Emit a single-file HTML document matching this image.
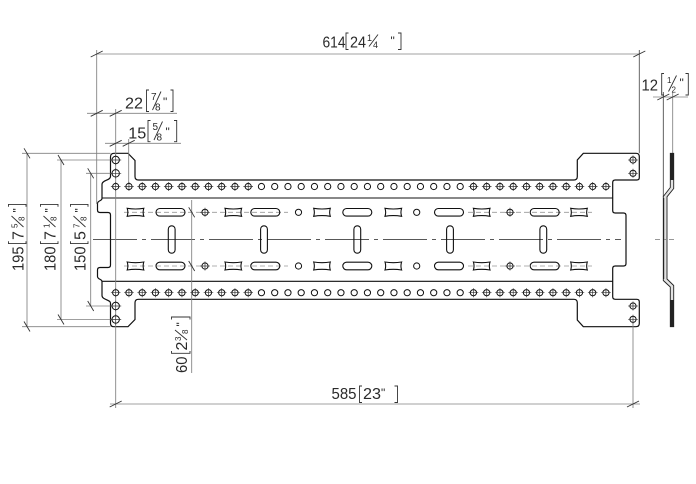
<!DOCTYPE html>
<html><head><meta charset="utf-8"><style>
html,body{margin:0;padding:0;background:#fff;}
svg{display:block;}
text{font-family:"Liberation Sans",Arial,sans-serif;fill:#2a2a2a;}
</style></head><body>
<svg width="696" height="484" viewBox="0 0 696 484" xmlns="http://www.w3.org/2000/svg">
<defs>
<g id="hx"><circle r="3.1" fill="#fff" stroke="#111" stroke-width="1"/><path d="M-4.8,0H4.8M0,-4.5V4.5" stroke="#333" stroke-width="0.7"/></g>
<g id="ho"><circle r="3.1" fill="#fff" stroke="#111" stroke-width="1"/></g>
<g id="th"><circle r="3.7" fill="#fff" stroke="#111" stroke-width="1"/><path d="M-5.5,0H5.5M0,-5.2V5.2" stroke="#333" stroke-width="0.7"/></g>
<path id="bt" d="M-8.3,-4 Q0,-2.6 8.3,-4 Q7,0 8.3,4 Q0,2.6 -8.3,4 Q-7,0 -8.3,-4Z" fill="none" stroke="#111" stroke-width="1.1"/>
<rect id="hs" x="-14.5" y="-3.8" width="29" height="7.6" rx="3.8" fill="none" stroke="#111" stroke-width="1.1"/>
<rect id="vs" x="-3.4" y="-13.7" width="6.8" height="27.4" rx="3.4" fill="none" stroke="#111" stroke-width="1.1"/>
</defs>

<!-- plate outline -->
<path d="M110.5,157 Q110.5,153.3 114,153.3 L128,153.3 L135,160.5 L135,176.5 Q135,180 138.5,180 L573.8,180 Q577.3,180 577.3,176.5 L577.3,160 L583.3,153.3 L636,153.3 Q639.3,153.3 639.3,156.6 L639.3,177.5 Q639.3,180 636.8,180 L615.2,180 Q612.7,180 612.7,182.5 L612.7,210.5 Q612.7,213 615.2,213 L623.5,213 Q626,213 626,215.5 L626,263.5 Q626,266 623.5,266 L615.2,266 Q612.7,266 612.7,268.5 L612.7,296.8 Q612.7,299.3 615.2,299.3 L636.8,299.3 Q639.3,299.3 639.3,301.8 L639.3,323.4 Q639.3,326.7 636,326.7 L583.3,326.7 L577.3,320 L577.3,302.8 Q577.3,299.3 573.8,299.3 L138.5,299.3 Q135,299.3 135,302.8 L135,319.5 L128,326.7 L114,326.7 Q110.5,326.7 110.5,323.2 L110.5,303 C110.5,299.5 102,300 102,295.5 L102,281.5 C102,279 97.5,279.5 97.5,276.5 L97.5,270 Q97.5,267.5 100,267.5 L108,267.5 Q110.5,267.5 110.5,265 L110.5,215 Q110.5,212.5 108,212.5 L100,212.5 Q97.5,212.5 97.5,210 L97.5,203.5 C97.5,200.5 102,201 102,198.5 L102,184.5 C102,180 110.5,180.5 110.5,176.5 Z" fill="#fff" stroke="#111" stroke-width="1.2"/>
<!-- bend lines -->
<path d="M102,198H612.7M102,281.3H612.7" stroke="#111" stroke-width="1.1"/>

<!-- center line -->
<path d="M93,239.5H621" stroke="#222" stroke-width="0.8" stroke-dasharray="44 5 4 5"/>
<!-- row dashed center lines -->
<g stroke="#999" stroke-width="0.8" stroke-dasharray="5 3">
<path d="M124,212.3H288M468,212.3H592M124,266H288M468,266H592"/>
</g>

<!-- dimension / extension lines (gray) -->
<g stroke="#808080" stroke-width="0.85" fill="none">
<path d="M96.7,54H639.3"/>
<path d="M96.7,50V204"/>
<path d="M87,113.3H177"/>
<path d="M105,143.3H181"/>
<path d="M115.7,109V408"/>
<path d="M128.7,139V186.5"/>
<path d="M27,153.3V326.5"/>
<path d="M22,153.3H110.5M22,326.7H110.5"/>
<path d="M61,160V319.5"/>
<path d="M57,160H112M57,319.5H112"/>
<path d="M90.7,173.3V306"/>
<path d="M86,173.3H112M86,306H112"/>
<path d="M110,404H640"/>
<path d="M633,322V408"/>
<path d="M191.7,200V373"/>
<path d="M653,97H688"/>
<path d="M672.7,92V153.3"/>
</g>
<path d="M639.3,50V153.3" stroke="#555" stroke-width="0.9"/>
<path d="M663.3,92V197" stroke="#444" stroke-width="0.85"/>

<!-- ticks -->
<g stroke="#333" stroke-width="0.9">
<path d="M90.7,57L102.7,51M633.3,57L645.3,51"/>
<path d="M90.7,116.3L102.7,110.3M109.7,116.3L121.7,110.3"/>
<path d="M109.7,146.3L121.7,140.3M122.7,146.3L134.7,140.3"/>
<path d="M109.7,407L121.7,401M627,407L639,401"/>
<path d="M657.3,100L669.3,94M666.7,100L678.7,94"/>
<path d="M24,148.3L30,158.3M24,321.5L30,331.5"/>
<path d="M58,155L64,165M58,314.5L64,324.5"/>
<path d="M87.7,168.3L93.7,178.3M87.7,301L93.7,311"/>
<path d="M188.7,207.3L194.7,217.3M188.7,261L194.7,271"/>
</g>

<!-- flange holes top -->
<g>
<use href="#hx" x="115.7" y="186.5"/><use href="#hx" x="128.95" y="186.5"/><use href="#hx" x="142.2" y="186.5"/><use href="#hx" x="155.45" y="186.5"/><use href="#hx" x="168.7" y="186.5"/><use href="#hx" x="181.95" y="186.5"/><use href="#hx" x="195.2" y="186.5"/><use href="#hx" x="208.45" y="186.5"/><use href="#hx" x="221.7" y="186.5"/><use href="#hx" x="234.95" y="186.5"/><use href="#hx" x="248.2" y="186.5"/>
<use href="#ho" x="261.45" y="186.5"/><use href="#ho" x="274.7" y="186.5"/><use href="#ho" x="287.95" y="186.5"/><use href="#ho" x="301.2" y="186.5"/><use href="#ho" x="314.45" y="186.5"/><use href="#ho" x="327.7" y="186.5"/><use href="#ho" x="340.95" y="186.5"/><use href="#ho" x="354.2" y="186.5"/><use href="#ho" x="367.45" y="186.5"/><use href="#ho" x="380.7" y="186.5"/><use href="#ho" x="393.95" y="186.5"/><use href="#ho" x="407.2" y="186.5"/><use href="#ho" x="420.45" y="186.5"/><use href="#ho" x="433.7" y="186.5"/><use href="#ho" x="446.95" y="186.5"/><use href="#ho" x="460.2" y="186.5"/>
<use href="#hx" x="473.45" y="186.5"/><use href="#hx" x="486.7" y="186.5"/><use href="#hx" x="499.95" y="186.5"/><use href="#hx" x="513.2" y="186.5"/><use href="#hx" x="526.45" y="186.5"/><use href="#hx" x="539.7" y="186.5"/><use href="#hx" x="552.95" y="186.5"/><use href="#hx" x="566.2" y="186.5"/><use href="#hx" x="579.45" y="186.5"/><use href="#hx" x="592.7" y="186.5"/><use href="#hx" x="605.95" y="186.5"/>
</g>
<!-- flange holes bottom -->
<g>
<use href="#hx" x="115.7" y="292.7"/><use href="#hx" x="128.95" y="292.7"/><use href="#hx" x="142.2" y="292.7"/><use href="#hx" x="155.45" y="292.7"/><use href="#hx" x="168.7" y="292.7"/><use href="#hx" x="181.95" y="292.7"/><use href="#hx" x="195.2" y="292.7"/><use href="#hx" x="208.45" y="292.7"/><use href="#hx" x="221.7" y="292.7"/><use href="#hx" x="234.95" y="292.7"/><use href="#hx" x="248.2" y="292.7"/>
<use href="#ho" x="261.45" y="292.7"/><use href="#ho" x="274.7" y="292.7"/><use href="#ho" x="287.95" y="292.7"/><use href="#ho" x="301.2" y="292.7"/><use href="#ho" x="314.45" y="292.7"/><use href="#ho" x="327.7" y="292.7"/><use href="#ho" x="340.95" y="292.7"/><use href="#ho" x="354.2" y="292.7"/><use href="#ho" x="367.45" y="292.7"/><use href="#ho" x="380.7" y="292.7"/><use href="#ho" x="393.95" y="292.7"/><use href="#ho" x="407.2" y="292.7"/><use href="#ho" x="420.45" y="292.7"/><use href="#ho" x="433.7" y="292.7"/><use href="#ho" x="446.95" y="292.7"/><use href="#ho" x="460.2" y="292.7"/>
<use href="#hx" x="473.45" y="292.7"/><use href="#hx" x="486.7" y="292.7"/><use href="#hx" x="499.95" y="292.7"/><use href="#hx" x="513.2" y="292.7"/><use href="#hx" x="526.45" y="292.7"/><use href="#hx" x="539.7" y="292.7"/><use href="#hx" x="552.95" y="292.7"/><use href="#hx" x="566.2" y="292.7"/><use href="#hx" x="579.45" y="292.7"/><use href="#hx" x="592.7" y="292.7"/><use href="#hx" x="605.95" y="292.7"/>
</g>

<!-- tab holes -->
<use href="#th" x="115.7" y="160"/><use href="#th" x="115.7" y="173.3"/>
<use href="#th" x="115.7" y="306"/><use href="#th" x="115.7" y="319.5"/>
<use href="#hx" x="633" y="160"/><use href="#hx" x="633" y="173.3"/>
<use href="#hx" x="633" y="306"/><use href="#hx" x="633" y="319.3"/>

<!-- body features -->
<g>
<use href="#bt" x="135.5" y="212.3"/><use href="#bt" x="233.3" y="212.3"/><use href="#bt" x="322" y="212.3"/><use href="#bt" x="393.3" y="212.3"/><use href="#bt" x="481.7" y="212.3"/><use href="#bt" x="579" y="212.3"/>
<use href="#bt" x="135.5" y="266"/><use href="#bt" x="233.3" y="266"/><use href="#bt" x="322" y="266"/><use href="#bt" x="393.3" y="266"/><use href="#bt" x="481.7" y="266"/><use href="#bt" x="579" y="266"/>
<use href="#hs" x="170.5" y="212.3"/><use href="#hs" x="265.3" y="212.3"/><use href="#hs" x="357.3" y="212.3"/><use href="#hs" x="449" y="212.3"/><use href="#hs" x="544.7" y="212.3"/>
<use href="#hs" x="170.5" y="266"/><use href="#hs" x="265.3" y="266"/><use href="#hs" x="357.3" y="266"/><use href="#hs" x="449" y="266"/><use href="#hs" x="544.7" y="266"/>
<use href="#vs" x="171.7" y="239.5"/><use href="#vs" x="264" y="239.5"/><use href="#vs" x="357.3" y="239.5"/><use href="#vs" x="450" y="239.5"/><use href="#vs" x="543.3" y="239.5"/>
<use href="#hx" x="205" y="212.3"/><use href="#hx" x="205" y="266"/>
<use href="#ho" x="298.5" y="212.3"/><use href="#ho" x="298.5" y="266"/>
<use href="#ho" x="416.7" y="212.3"/><use href="#ho" x="416.7" y="266"/>
<use href="#hx" x="510" y="212.3"/><use href="#hx" x="510" y="266"/>
</g>

<!-- side view -->
<path d="M670.3,153.3H673.7V188.5L667,196.8V279L673.7,285.5V326.7H670.3V287L663.3,280.5V196.5L670.3,187.5Z" fill="#e2e2e2" stroke="#222" stroke-width="0.9"/>
<rect x="670.3" y="153.3" width="3.4" height="26.7" fill="#222"/>
<rect x="670.3" y="300" width="3.4" height="26.7" fill="#222"/>
<path d="M663.6,198V279" stroke="#222" stroke-width="1.2"/>
<path d="M655,239.4H660M664,239.4H666M669,239.4H674" stroke="#777" stroke-width="0.8"/>

<!-- bracket strokes -->
<g stroke="#333" stroke-width="0.9" fill="none">
<path d="M348.5,33H346V49.5H348.5"/><path d="M398,33H401V49.5H398"/><path d="M369,46.5L378,34.5"/>
<path d="M149,90H146.5V111.5H149"/><path d="M170.5,90H173V111.5H170.5"/><path d="M152.5,110L161,91.5"/>
<path d="M150.5,120.5H148V141.7H150.5"/><path d="M174,120.5H176.7V141.7H174"/><path d="M154,140L162.5,121.5"/>
<path d="M362,386H359.5V402.5H362"/><path d="M394.5,386H397.5V402.5H394.5"/>
<path d="M664,73.5H661.7V95H664"/><path d="M685.5,73.5H688.3V95H685.5"/><path d="M668.5,91.5L676.5,75.5"/>
</g>

<!-- horizontal texts -->
<text x="322.5" y="47.5" font-size="16" textLength="23" lengthAdjust="spacingAndGlyphs">614</text>
<text x="350" y="47.5" font-size="16" textLength="16" lengthAdjust="spacingAndGlyphs">24</text>
<text x="367" y="41" font-size="9">1</text>
<text x="373" y="48" font-size="9">4</text>
<text x="390.5" y="45" font-size="12">"</text>

<text x="125" y="108.5" font-size="16" textLength="18" lengthAdjust="spacingAndGlyphs">22</text>
<text x="151" y="100" font-size="10">7</text>
<text x="155" y="110.5" font-size="10">8</text>
<text x="163" y="106" font-size="12">"</text>

<text x="128.3" y="138.5" font-size="16" textLength="18" lengthAdjust="spacingAndGlyphs">15</text>
<text x="152.5" y="130" font-size="10">5</text>
<text x="156.5" y="140.5" font-size="10">8</text>
<text x="165.5" y="136" font-size="12">"</text>

<text x="331.5" y="399" font-size="16" textLength="25" lengthAdjust="spacingAndGlyphs">585</text>
<text x="363" y="399" font-size="16" textLength="18" lengthAdjust="spacingAndGlyphs">23</text>
<text x="381" y="397" font-size="12">"</text>

<text x="641.5" y="90.5" font-size="16" textLength="16.5" lengthAdjust="spacingAndGlyphs">12</text>
<text x="667" y="83" font-size="8">1</text>
<text x="671.5" y="92.5" font-size="8">2</text>
<text x="679.5" y="87" font-size="12">"</text>

<!-- rotated: 195 -->
<g transform="translate(23.5,271) rotate(-90)">
<text x="0" y="0" font-size="16" textLength="24.5" lengthAdjust="spacingAndGlyphs">195</text>
<path d="M29.7,-15H27.4V2.5H29.7M64.3,-15H66.6V2.5H64.3M44,0L55,-12" stroke="#333" stroke-width="0.9" fill="none"/>
<text x="31" y="0" font-size="16">7</text>
<text x="43" y="-6" font-size="8">5</text>
<text x="50" y="1" font-size="8">8</text>
<text x="58.5" y="-2" font-size="12">"</text>
</g>
<!-- rotated: 180 -->
<g transform="translate(55.5,271) rotate(-90)">
<text x="0" y="0" font-size="16" textLength="24.5" lengthAdjust="spacingAndGlyphs">180</text>
<path d="M29.7,-15H27.4V2.5H29.7M64.3,-15H66.6V2.5H64.3M44,0L55,-12" stroke="#333" stroke-width="0.9" fill="none"/>
<text x="31" y="0" font-size="16">7</text>
<text x="43" y="-6" font-size="8">1</text>
<text x="50" y="1" font-size="8">8</text>
<text x="58.5" y="-2" font-size="12">"</text>
</g>
<!-- rotated: 150 -->
<g transform="translate(85.5,271) rotate(-90)">
<text x="0" y="0" font-size="16" textLength="24.5" lengthAdjust="spacingAndGlyphs">150</text>
<path d="M29.7,-15H27.4V2.5H29.7M64.3,-15H66.6V2.5H64.3M44,0L55,-12" stroke="#333" stroke-width="0.9" fill="none"/>
<text x="31" y="0" font-size="16">5</text>
<text x="43" y="-6" font-size="8">7</text>
<text x="50" y="1" font-size="8">8</text>
<text x="58.5" y="-2" font-size="12">"</text>
</g>
<!-- rotated: 60 -->
<g transform="translate(187,373) rotate(-90)">
<text x="0" y="0" font-size="16" textLength="16.5" lengthAdjust="spacingAndGlyphs">60</text>
<path d="M22,-15.5H19.7V3H22M53.5,-15.5H56V3H53.5M33,0L43,-12" stroke="#333" stroke-width="0.9" fill="none"/>
<text x="22.5" y="0" font-size="16">2</text>
<text x="32" y="-6" font-size="8">3</text>
<text x="39" y="1" font-size="8">8</text>
<text x="46.5" y="-2" font-size="12">"</text>
</g>
</svg>
</body></html>
